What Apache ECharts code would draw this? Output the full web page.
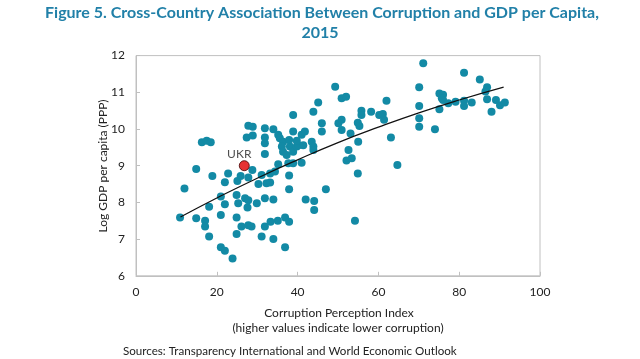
<!DOCTYPE html>
<html><head><meta charset="utf-8">
<script src="https://cdn.jsdelivr.net/npm/echarts@6/dist/echarts.min.js"></script>
<style>html,body{margin:0;padding:0;background:#fff}#c{width:640px;height:359px}</style>
</head><body><div id="c"></div>
<script>
// Corruption Perception Index (x) vs Log GDP per capita PPP (y), 2015
const cpi = [10.9,12.0,14.9,18.9,22.8,22.0,25.1,25.9,27.8,28.8,30.3,32.3,31.1,21.0,18.1,22.0,24.9,25.3,27.0,27.6,29.9,31.9,27.8,14.9,17.1,17.1,18.1,21.0,24.9,26.1,27.8,28.6,24.9,31.1,31.9,21.0,22.0,23.9,16.3,17.5,18.5,27.8,28.9,27.4,28.9,31.9,31.9,31.9,31.9,33.2,33.2,34.4,35.2,34.0,33.3,35.1,36.9,37.9,34.0,36.9,37.9,37.9,37.7,38.9,41.0,42.0,44.1,44.1,47.0,52.1,54.9,64.7,54.2,34.0,35.2,35.6,36.4,36.1,36.4,37.3,38.1,38.9,39.8,40.2,37.9,38.9,41.0,41.8,41.4,43.5,43.9,43.9,38.9,43.9,45.1,46.0,46.0,50.1,50.9,50.9,49.3,50.9,52.0,52.6,53.1,53.4,54.9,55.3,55.0,55.8,55.8,58.2,60.2,61.1,61.4,62.0,63.1,71.1,81.2,85.1,86.9,86.5,86.9,89.1,90.1,91.3,88.0,70.1,70.1,70.1,70.1,74.0,75.1,76.0,75.7,76.0,75.1,77.3,79.1,81.2,81.2,83.1,39.8];
const logGdp = [7.59,8.38,8.91,8.72,8.79,8.55,8.58,8.72,8.68,8.88,8.50,8.52,8.75,8.16,7.88,7.95,8.20,7.98,8.11,7.86,7.98,8.11,8.06,7.57,7.50,7.34,7.07,7.66,7.59,7.34,7.38,7.34,7.14,7.07,7.34,6.78,6.68,6.47,9.64,9.68,9.64,10.09,10.06,9.77,9.82,10.02,9.77,9.32,9.61,8.54,8.79,8.84,9.04,8.08,7.47,7.50,7.59,7.47,7.00,6.78,8.36,8.73,9.07,9.07,9.08,8.08,8.04,7.79,8.36,9.14,8.79,9.02,7.50,9.99,9.84,9.75,9.65,9.52,9.38,9.29,9.52,9.38,9.52,9.56,9.70,9.93,9.84,9.93,9.56,9.65,9.52,9.43,10.38,10.47,10.72,10.16,9.93,10.16,10.25,9.97,11.15,10.84,10.88,9.43,9.88,9.20,10.17,10.08,9.65,10.50,10.38,10.47,10.38,10.41,10.25,10.77,9.77,11.79,11.53,11.35,11.14,11.02,10.81,10.79,10.65,10.72,10.47,11.14,10.63,10.29,10.06,9.99,10.97,10.93,10.84,10.79,10.54,10.70,10.74,10.77,10.63,10.72,9.68];
const ukrName = "UKR";
const ukrPoint = [26.8, 9.0];
// fitted trend line
const trendX = [11,20,30,40,50,60,70,80,91];
const trendY = [7.60,8.12,8.66,9.16,9.63,10.05,10.44,10.79,11.14];
const xTicks = [0,20,40,60,80,100];
const yTicks = [6,7,8,9,10,11,12];
const titleLines = ['Figure 5. Cross-Country Association Between Corruption and GDP per Capita,', '2015'];

const FONT = 'Lato';
const chart = echarts.init(document.getElementById('c'), null, {renderer:'canvas'});
chart.setOption({
  animation:false,
  backgroundColor:'#fff',
  grid:{left:136,right:100,top:55.6,bottom:83.2,show:true,borderColor:'#c0c0c0',borderWidth:1},
  xAxis:{
    type:'value',min:xTicks[0],max:xTicks[xTicks.length-1],interval:20,
    axisLine:{show:true,lineStyle:{color:'#c0c0c0'}},
    axisTick:{show:true,inside:true,length:4,lineStyle:{color:'#c0c0c0'}},
    splitLine:{show:false},
    axisLabel:{margin:10,fontFamily:FONT,fontSize:12,color:'#222'}
  },
  yAxis:{
    type:'value',min:yTicks[0],max:yTicks[yTicks.length-1],interval:1,
    axisLine:{show:true,lineStyle:{color:'#c0c0c0'}},
    axisTick:{show:true,inside:true,length:4,lineStyle:{color:'#c0c0c0'}},
    splitLine:{show:false},
    axisLabel:{margin:11,fontFamily:FONT,fontSize:12,color:'#222'}
  },
  graphic:[
    {type:'text',x:322,y:13,style:{text:titleLines[0],fontFamily:FONT,fontWeight:'bold',fontSize:16,fill:'#2180a8',textAlign:'center',textVerticalAlign:'middle'}},
    {type:'text',x:320,y:33,style:{text:titleLines[1],fontFamily:FONT,fontWeight:'bold',fontSize:16,fill:'#2180a8',textAlign:'center',textVerticalAlign:'middle'}},
    {type:'text',x:103,y:166,rotation:Math.PI/2,style:{text:'Log GDP per capita (PPP)',fontFamily:FONT,fontSize:12,fill:'#222',textAlign:'center',textVerticalAlign:'middle'}},
    {type:'text',x:339,y:313,style:{text:'Corruption Perception Index',fontFamily:FONT,fontSize:12,fill:'#222',textAlign:'center',textVerticalAlign:'middle'}},
    {type:'text',x:338,y:328,style:{text:'(higher values indicate lower corruption)',fontFamily:FONT,fontSize:12,fill:'#222',textAlign:'center',textVerticalAlign:'middle'}},
    {type:'text',x:123,y:351,style:{text:'Sources: Transparency International and World Economic Outlook',fontFamily:FONT,fontSize:11.6,fill:'#222',textAlign:'left',textVerticalAlign:'middle'}}
  ],
  series:[
    {type:'scatter',symbolSize:8,itemStyle:{color:'#138aa5',opacity:1},
     data:cpi.map((x,i)=>[x,logGdp[i]]),z:2},
    {type:'line',smooth:true,symbol:'none',lineStyle:{color:'#111',width:1.2},
     data:trendX.map((x,i)=>[x,trendY[i]]),z:3},
    {type:'scatter',symbolSize:10,itemStyle:{color:'#e00000',borderColor:'#400',borderWidth:1},
     data:[{value:ukrPoint,name:ukrName}],z:4,
     label:{show:true,position:'top',formatter:'{b}',distance:2,offset:[-5,2],fontFamily:FONT,fontSize:12,color:'#222'}}
  ]
});
</script></body></html>
